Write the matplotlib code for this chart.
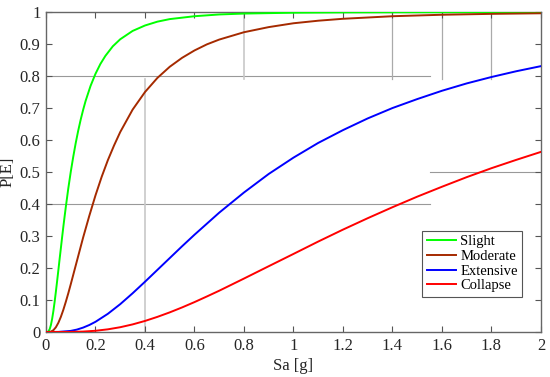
import matplotlib
matplotlib.use('Agg')
import matplotlib.pyplot as plt
from matplotlib.ticker import FuncFormatter

# Fragility curves
sa_slight = [0, 0.005, 0.01, 0.015, 0.02, 0.025, 0.03, 0.035, 0.04, 0.045, 0.05, 0.055, 0.06, 0.065,
             0.07, 0.075, 0.08, 0.09, 0.10, 0.11, 0.12, 0.13, 0.14, 0.15, 0.16, 0.18, 0.20, 0.22, 0.24,
             0.27, 0.30, 0.35, 0.40, 0.45, 0.50, 0.60, 0.70, 0.80, 1.0, 1.2, 1.5, 2.0]
p_slight = [0, 0.0001, 0.002, 0.0089, 0.022, 0.0416, 0.066, 0.0947, 0.126, 0.159, 0.193, 0.2275, 0.261, 0.295,
            0.328, 0.3595, 0.390, 0.448, 0.500, 0.547, 0.590, 0.6285, 0.663, 0.694, 0.722, 0.769, 0.807, 0.838, 0.863,
            0.893, 0.915, 0.941, 0.958, 0.970, 0.978, 0.987, 0.9925, 0.9953, 0.998, 0.999, 0.9995, 0.9999]

sa_moderate = [0, 0.01, 0.02, 0.03, 0.04, 0.05, 0.06, 0.07, 0.08, 0.09, 0.10, 0.125, 0.15, 0.175, 0.20,
               0.225, 0.25, 0.275, 0.30, 0.35, 0.40, 0.45, 0.50, 0.55, 0.60, 0.65, 0.70, 0.80, 0.90,
               1.0, 1.1, 1.2, 1.4, 1.6, 1.8, 2.0]
p_moderate = [0, 0.0, 0.0012, 0.0057, 0.0148, 0.0287, 0.047, 0.069, 0.094, 0.1206, 0.149, 0.222, 0.295, 0.363, 0.427,
              0.485, 0.537, 0.583, 0.625, 0.695, 0.750, 0.794, 0.829, 0.857, 0.880, 0.899, 0.914, 0.937, 0.953,
              0.965, 0.973, 0.979, 0.987, 0.9916, 0.9944, 0.9962]

sa_extensive = [0, 0.05, 0.10, 0.125, 0.15, 0.175, 0.20, 0.25, 0.30, 0.35, 0.40, 0.45, 0.50, 0.55, 0.60,
                0.70, 0.80, 0.90, 1.0, 1.1, 1.2, 1.3, 1.4, 1.5, 1.6, 1.7, 1.8, 1.9, 2.0]
p_extensive = [0, 0.0002, 0.0034, 0.0075, 0.0137, 0.0218, 0.0318, 0.0568, 0.087, 0.121, 0.157, 0.194, 0.231, 0.268, 0.304,
               0.373, 0.436, 0.494, 0.545, 0.591, 0.631, 0.6676, 0.700, 0.728, 0.754, 0.777, 0.797, 0.815, 0.831]

sa_collapse = [0, 0.10, 0.15, 0.20, 0.25, 0.30, 0.35, 0.40, 0.45, 0.50, 0.55, 0.60, 0.65, 0.70, 0.75, 0.80,
               0.90, 1.0, 1.1, 1.2, 1.3, 1.4, 1.5, 1.6, 1.7, 1.8, 1.9, 2.0]
p_collapse = [0, 0.0002, 0.0013, 0.0038, 0.0083, 0.0149, 0.0237, 0.0345, 0.0472, 0.0613, 0.0768, 0.0934, 0.111, 0.129,
              0.148, 0.167, 0.2056, 0.244, 0.2827, 0.320, 0.3557, 0.390, 0.423, 0.454, 0.484, 0.512, 0.538, 0.563]

labels = ['Slight', 'Moderate', 'Extensive', 'Collapse']
colors = ['#00ff00', '#a52a00', '#0000ff', '#ff0000']

plt.rcParams['font.family'] = ['Liberation Serif', 'DejaVu Serif']

fig = plt.figure(figsize=(5.5, 3.77), dpi=100)
ax = fig.add_axes([0.0836, 0.1194, 0.9, 0.8486])

# stray grid segments visible in the original
ax.axhline(0.8, xmin=0, xmax=0.776, color='#999999', lw=0.8, zorder=1)
ax.axhline(0.4, xmin=0, xmax=0.776, color='#999999', lw=0.8, zorder=1)
ax.axhline(0.5, xmin=0.776, xmax=1, color='#999999', lw=0.8, zorder=1)
ax.axvline(0.4, ymin=0, ymax=0.79, color='#c8c8c8', lw=1.2, zorder=1)
ax.axvline(0.8, ymin=0.79, ymax=1, color='#c8c8c8', lw=1.2, zorder=1)
for xv in [1.4, 1.6, 1.8]:
    ax.axvline(xv, ymin=0.79, ymax=1, color='#aaaaaa', lw=0.9, zorder=1)

series = [(sa_slight, p_slight), (sa_moderate, p_moderate),
          (sa_extensive, p_extensive), (sa_collapse, p_collapse)]
for (x, y), lab, c in zip(series, labels, colors):
    ax.plot(x, y, color=c, lw=1.4, label=lab, zorder=3)

ax.set_xlim(0, 2)
ax.set_ylim(0, 1)
ax.set_xticks([i * 0.2 for i in range(11)])
ax.set_yticks([i * 0.1 for i in range(11)])
fmt = FuncFormatter(lambda v, pos: '%g' % round(v, 2))
ax.xaxis.set_major_formatter(fmt)
ax.yaxis.set_major_formatter(fmt)
ax.tick_params(direction='in', length=4, width=0.8, color='#555555',
               labelsize=12, labelcolor='#262626', top=True, right=True, pad=4)
for s in ax.spines.values():
    s.set_color('#666666')
    s.set_linewidth(1.0)

ax.set_xlabel('Sa [g]', fontsize=12, color='#262626', labelpad=3)
ax.set_ylabel('P[E]', fontsize=12, color='#262626', labelpad=3)

leg = ax.legend(loc='lower right', bbox_to_anchor=(0.962, 0.11), borderaxespad=0,
                fontsize=10.5, fancybox=False, framealpha=1, edgecolor='#555555',
                handlelength=2.0, handletextpad=0.3, labelspacing=0.1, borderpad=0.3)
leg.get_frame().set_linewidth(0.8)

fig.savefig('out.png', dpi=100)
